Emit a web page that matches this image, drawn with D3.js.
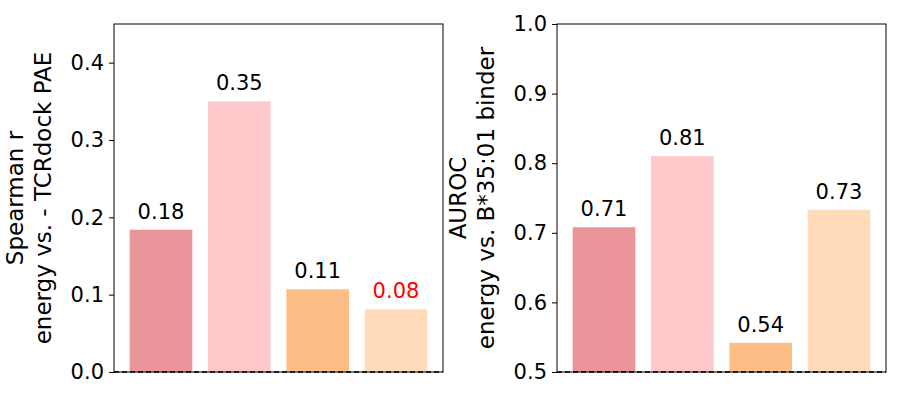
<html>
<head>
<script src="https://d3js.org/d3.v7.min.js"></script>
<style>
body { margin: 0; background: #fff; }
text { font-family: "DejaVu Sans", sans-serif; }
</style>
</head>
<body>
<div id="chart"></div>
<script>
const colors = ["#e89498", "#fdc9cb", "#ffbe85", "#ffdbbb"];
const spearman = [0.184, 0.35, 0.107, 0.081];
const spearmanLabels = ["0.18", "0.35", "0.11", "0.08"];
const spearmanLabelColors = ["black", "black", "black", "red"];
const auroc = [0.708, 0.81, 0.542, 0.733];
const aurocLabels = ["0.71", "0.81", "0.54", "0.73"];
const leftTicks = [0.0, 0.1, 0.2, 0.3, 0.4];
const rightTicks = [0.5, 0.6, 0.7, 0.8, 0.9, 1.0];

const svg = d3.select("#chart").append("svg").attr("width", 900).attr("height", 400);

function panel(x0, values, labels, labelColors, domain, ticks, fmt, ylab) {
    const top = 24, bottom = 372, w = 329;
    const x = d3.scaleLinear().domain([-0.6, 3.6]).range([x0, x0 + w]);
    const y = d3.scaleLinear().domain(domain).range([bottom, top]);
    const g = svg.append("g");
    const bw = x(0.8) - x(0);

    g.selectAll("rect.bar").data(values).enter().append("rect")
        .attr("x", (d, i) => x(i - 0.4))
        .attr("y", d => y(d))
        .attr("width", bw)
        .attr("height", d => y(domain[0]) - y(d))
        .attr("fill", (d, i) => colors[i]);

    g.selectAll("text.val").data(values).enter().append("text")
        .attr("x", (d, i) => x(i))
        .attr("y", d => y(d) - 11)
        .attr("text-anchor", "middle")
        .attr("font-size", 21)
        .attr("fill", (d, i) => labelColors[i])
        .text((d, i) => labels[i]);

    g.append("line")
        .attr("x1", x0).attr("x2", x0 + w)
        .attr("y1", y(domain[0])).attr("y2", y(domain[0]))
        .attr("stroke", "black").attr("stroke-width", 1.5)
        .attr("stroke-dasharray", "5,3");

    g.append("rect").attr("x", x0).attr("y", top).attr("width", w).attr("height", bottom - top)
        .attr("fill", "none").attr("stroke", "black").attr("stroke-width", 1);

    const ax = g.append("g").attr("transform", `translate(${x0},0)`)
        .call(d3.axisLeft(y).tickValues(ticks).tickFormat(fmt).tickSize(5).tickPadding(5));
    ax.select(".domain").remove();
    ax.selectAll("text").attr("font-size", 21).attr("font-family", "DejaVu Sans, sans-serif");
    ax.selectAll("line").attr("stroke-width", 1);

    const lab = g.append("text")
        .attr("transform", `translate(${x0 - 77},${(top + bottom) / 2}) rotate(-90)`)
        .attr("text-anchor", "middle").attr("font-size", 23);
    lab.append("tspan").attr("x", 0).attr("dy", -14).text(ylab[0]);
    lab.append("tspan").attr("x", 0).attr("dy", 28).text(ylab[1]);
}

panel(114, spearman, spearmanLabels, spearmanLabelColors, [0, 0.45], leftTicks, d3.format(".1f"),
      ["Spearman r", "energy vs. - TCRdock PAE"]);
panel(557, auroc, aurocLabels, ["black", "black", "black", "black"], [0.5, 1.0], rightTicks, d3.format(".1f"),
      ["AUROC", "energy vs. B*35:01 binder"]);
</script>
</body>
</html>
